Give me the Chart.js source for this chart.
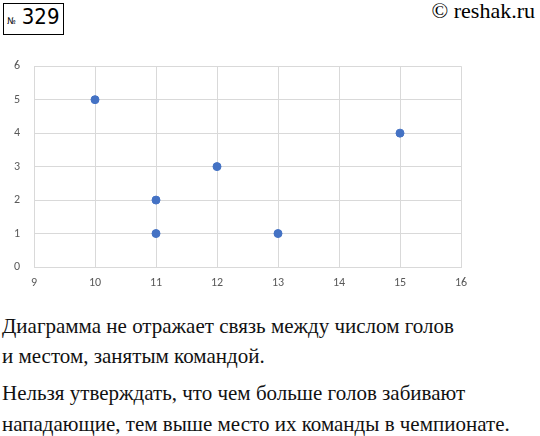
<!DOCTYPE html>
<html><head><meta charset="utf-8">
<script src="https://cdn.jsdelivr.net/npm/chart.js@4"></script>
<style>
body{margin:0;width:540px;height:436px;background:#fff;position:relative;overflow:hidden;font-family:"Times New Roman","Liberation Serif","DejaVu Serif",serif;}
#wrap{position:absolute;left:0;top:45px;width:480px;height:250px;}
.t{position:absolute;left:2px;font-size:21px;color:#111;white-space:nowrap;font-family:"Times New Roman","Liberation Serif","DejaVu Serif",serif;}
#num{position:absolute;left:3px;top:3px;border:1.5px solid #000;padding:0 3px;font-family:"Liberation Sans Narrow","DejaVu Sans Condensed",sans-serif;font-size:22px;line-height:26px;}
#num small{font-size:9px;}
#cp{position:absolute;right:5px;top:-2px;font-size:22px;font-family:"Times New Roman","Liberation Serif",serif;}
</style></head><body>
<div id="num"><small>№</small> 329</div>
<div id="cp">© reshak.ru</div>
<div id="wrap"><canvas id="c"></canvas></div>
<div class="t" style="top:314px">Диаграмма не отражает связь между числом голов</div>
<div class="t" style="top:344px">и местом, занятым командой.</div>
<div class="t" style="top:381px">Нельзя утверждать, что чем больше голов забивают</div>
<div class="t" style="top:412px">нападающие, тем выше место их команды в чемпионате.</div>
<script>
const goals = [10, 11, 11, 12, 13, 15];
const places = [5, 2, 1, 3, 1, 4];
const xTicks = [9, 10, 11, 12, 13, 14, 15, 16];
const yTicks = [0, 1, 2, 3, 4, 5, 6];

const points = goals.map((g, i) => ({ x: g, y: places[i] }));
new Chart(document.getElementById('c'), {
    type: 'scatter',
    data: { datasets: [{ data: points, backgroundColor: '#4472C4', borderColor: '#4472C4', pointRadius: 4 }] },
    options: {
        responsive: true, maintainAspectRatio: false, animation: false,
        layout: { padding: { top: 8, right: 19, left: 0, bottom: 0 } },
        plugins: { legend: { display: false }, tooltip: { enabled: false } },
        scales: {
            x: {
                min: xTicks[0], max: xTicks[xTicks.length - 1],
                afterBuildTicks: a => { a.ticks = xTicks.map(v => ({ value: v })); },
                afterFit: a => { a.height = 28; },
                grid: { color: '#d9d9d9', drawTicks: false },
                border: { color: '#d9d9d9' },
                ticks: { color: '#595959', font: { family: 'Calibri, Carlito, "Open Sans", sans-serif', size: 12 }, padding: 9 }
            },
            y: {
                min: yTicks[0], max: yTicks[yTicks.length - 1],
                afterBuildTicks: a => { a.ticks = yTicks.map(v => ({ value: v })); },
                afterFit: a => { a.width = 34; },
                grid: { color: '#d9d9d9', drawTicks: false },
                border: { color: '#d9d9d9' },
                ticks: { color: '#595959', font: { family: 'Calibri, Carlito, "Open Sans", sans-serif', size: 12 }, padding: 14 }
            }
        }
    }
});
</script>
</body></html>
